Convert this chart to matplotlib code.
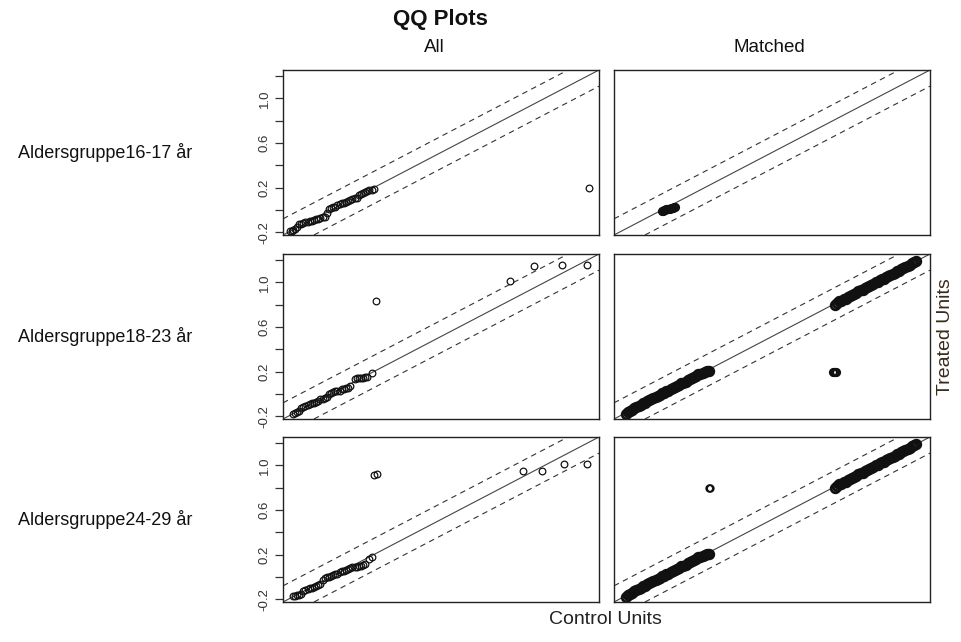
import matplotlib
matplotlib.use("Agg")
import matplotlib.pyplot as plt

plt.rcParams["font.family"] = ["Liberation Sans", "DejaVu Sans"]

# row labels and column titles
row_labels = ["Aldersgruppe16-17 år", "Aldersgruppe18-23 år", "Aldersgruppe24-29 år"]
col_titles = ["All", "Matched"]
y_ticks = [-0.2, 0.0, 0.2, 0.4, 0.6, 0.8, 1.0, 1.2]
y_ticklabels = ["-0.2", "", "0.2", "", "0.6", "", "1.0", ""]

# All, 16-17: control quantiles (x) vs treated quantiles (y)
all1_x = [-0.19, -0.185, -0.18, -0.17, -0.16, -0.15, -0.14, -0.13, -0.12, -0.11,
          -0.10, -0.09, -0.08, -0.07, -0.06, -0.05, -0.04, -0.03, -0.02, -0.01,
          0.00, 0.01, 0.02, 0.03, 0.04, 0.05, 0.06, 0.07, 0.08, 0.09,
          0.10, 0.11, 0.12, 0.13, 0.14, 0.15, 0.16, 0.17, 0.18, 0.19, 0.20, 1.21]
all1_y = [-0.19, -0.185, -0.18, -0.17, -0.15, -0.13, -0.125, -0.12, -0.11, -0.105,
          -0.10, -0.10, -0.09, -0.085, -0.08, -0.07, -0.065, -0.06, -0.03, 0.01,
          0.02, 0.025, 0.03, 0.04, 0.05, 0.06, 0.065, 0.07, 0.08, 0.09,
          0.10, 0.105, 0.11, 0.13, 0.14, 0.15, 0.16, 0.17, 0.18, 0.18, 0.19, 0.20]

# All, 18-23
all2_x = [-0.18, -0.17, -0.16, -0.15, -0.14, -0.13, -0.12, -0.11, -0.10, -0.09,
          -0.08, -0.07, -0.06, -0.05, -0.04, -0.03, -0.02, -0.01, 0.00, 0.01,
          0.02, 0.03, 0.04, 0.05, 0.06, 0.07, 0.08, 0.09, 0.11, 0.12,
          0.13, 0.14, 0.15, 0.16, 0.17, 0.19,
          0.21, 0.84, 0.95, 1.08, 1.20]
all2_y = [-0.18, -0.17, -0.16, -0.15, -0.13, -0.12, -0.11, -0.10, -0.09, -0.08,
          -0.08, -0.07, -0.06, -0.05, -0.05, -0.04, -0.03, 0.00, 0.01, 0.02,
          0.03, 0.03, 0.03, 0.04, 0.04, 0.05, 0.05, 0.07, 0.13, 0.14,
          0.14, 0.14, 0.14, 0.15, 0.15, 0.19,
          0.83, 1.01, 1.15, 1.16, 1.16]

# All, 24-29
all3_x = [-0.18, -0.17, -0.16, -0.15, -0.14, -0.13, -0.12, -0.11, -0.10, -0.09,
          -0.08, -0.07, -0.06, -0.05, -0.04, -0.03, -0.02, -0.01, 0.00, 0.01,
          0.02, 0.03, 0.04, 0.05, 0.06, 0.07, 0.08, 0.09, 0.10, 0.11,
          0.12, 0.13, 0.14, 0.15, 0.16, 0.18, 0.19,
          0.20, 0.215, 0.90, 0.99, 1.09, 1.20]
all3_y = [-0.17, -0.17, -0.165, -0.16, -0.15, -0.13, -0.12, -0.11, -0.10, -0.10,
          -0.09, -0.08, -0.07, -0.06, -0.03, -0.01, 0.00, 0.00, 0.01, 0.02,
          0.03, 0.03, 0.04, 0.05, 0.05, 0.06, 0.07, 0.08, 0.09, 0.09,
          0.09, 0.10, 0.10, 0.11, 0.12, 0.16, 0.18,
          0.91, 0.92, 0.95, 0.95, 1.01, 1.01]

# Matched, 16-17: a tight cluster near zero
m1_x = [0.000, 0.005, 0.010, 0.015, 0.020, 0.025, 0.030, 0.035, 0.040, 0.045,
        0.050, 0.055, 0.060]
m1_y = [-0.012, -0.008, -0.004, 0.000, 0.004, 0.006, 0.010, 0.012, 0.016, 0.018,
        0.020, 0.024, 0.026]

# Matched bands (low group and high group)
band_lo_x = [-0.17, -0.16, -0.15, -0.14, -0.13, -0.12, -0.11, -0.10, -0.09, -0.08,
             -0.07, -0.06, -0.05, -0.04, -0.03, -0.02, -0.01, 0.00, 0.01, 0.02,
             0.03, 0.04, 0.05, 0.06, 0.07, 0.08, 0.09, 0.10, 0.11, 0.12,
             0.13, 0.14, 0.15, 0.16, 0.17, 0.18, 0.19, 0.20, 0.21, 0.22]
band_lo_y = [-0.18, -0.165, -0.155, -0.14, -0.125, -0.12, -0.105, -0.095, -0.085, -0.08,
             -0.065, -0.055, -0.045, -0.04, -0.025, -0.015, -0.01, 0.005, 0.01, 0.025,
             0.03, 0.045, 0.05, 0.06, 0.075, 0.08, 0.095, 0.10, 0.11, 0.125,
             0.13, 0.145, 0.15, 0.16, 0.175, 0.18, 0.19, 0.20, 0.205, 0.21]
band_hi_x = [0.81, 0.82, 0.83, 0.84, 0.85, 0.86, 0.87, 0.88, 0.89, 0.90,
             0.91, 0.92, 0.93, 0.94, 0.95, 0.96, 0.97, 0.98, 0.99, 1.00,
             1.01, 1.02, 1.03, 1.04, 1.05, 1.06, 1.07, 1.08, 1.09, 1.10,
             1.11, 1.12, 1.13, 1.14, 1.15, 1.16, 1.17, 1.18, 1.19]
band_hi_y = [0.80, 0.815, 0.83, 0.835, 0.85, 0.855, 0.87, 0.88, 0.885, 0.90,
             0.905, 0.92, 0.93, 0.935, 0.95, 0.955, 0.97, 0.98, 0.985, 1.00,
             1.005, 1.02, 1.03, 1.035, 1.05, 1.055, 1.07, 1.08, 1.085, 1.10,
             1.105, 1.12, 1.13, 1.135, 1.15, 1.155, 1.17, 1.18, 1.19]

# Matched outliers
m2_out_x = [0.800, 0.805, 0.810, 0.815]
m2_out_y = [0.20, 0.20, 0.20, 0.20]
m3_out_x = [0.222, 0.226]
m3_out_y = [0.80, 0.80]

band_offset = 0.145
lim = (-0.225, 1.255)

fig = plt.figure(figsize=(9.62, 6.42), dpi=100)
W, H = 962, 642


def add_axes(left, top, right, bottom):
    return fig.add_axes([left / W, 1 - bottom / H, (right - left) / W, (bottom - top) / H])


rows = [(70, 235), (254, 419), (437, 602)]
cols = [(283, 599), (614, 930)]

all_data = [(all1_x, all1_y), (all2_x, all2_y), (all3_x, all3_y)]

for r, (top, bottom) in enumerate(rows):
    for c, (left, right) in enumerate(cols):
        ax = add_axes(left, top, right, bottom)
        ax.set_xlim(lim)
        ax.set_ylim(lim)
        for s in ax.spines.values():
            s.set_linewidth(1.0)
            s.set_color("#222222")
        ax.set_xticks([])
        if c == 0:
            ax.set_yticks(y_ticks)
            ax.set_yticklabels(y_ticklabels, rotation=90, va="center", fontsize=9.5,
                               color="#333333")
            ax.tick_params(axis="y", length=6, width=0.9, pad=3, color="#333333")
        else:
            ax.set_yticks([])

        ax.axline((0, 0), slope=1, color="#444444", lw=0.8)
        ax.axline((0, band_offset), slope=1, color="#333333", lw=0.8,
                  ls=(0, (5, 4)))
        ax.axline((0, -band_offset), slope=1, color="#333333", lw=0.8,
                  ls=(0, (5, 4)))

        if c == 0:
            xs, ys = all_data[r]
            ax.plot(xs, ys, "o", mfc="none", mec="#111111", ms=4.8, mew=0.9)
        else:
            if r == 0:
                ax.plot(m1_x, m1_y, "o", mfc="none", mec="#111111", ms=5, mew=1.6)
            else:
                ax.plot(band_lo_x, band_lo_y, "o", mfc="none", mec="#111111",
                        ms=6.2, mew=2.0)
                ax.plot(band_hi_x, band_hi_y, "o", mfc="none", mec="#111111",
                        ms=6.2, mew=2.0)
                if r == 1:
                    ax.plot(m2_out_x, m2_out_y, "o", mfc="none", mec="#111111",
                            ms=5, mew=1.6)
                else:
                    ax.plot(m3_out_x, m3_out_y, "o", mfc="none", mec="#111111",
                            ms=4.8, mew=1.2)

    fig.text(18 / W, 1 - (top + bottom) / 2 / H, row_labels[r], fontsize=13,
             ha="left", va="center", color="#111111")

fig.text(440 / W, 1 - 20 / H, "QQ Plots", fontsize=16, fontweight="bold",
         ha="center", va="center", color="#111111")
fig.text(434 / W, 1 - 47 / H, col_titles[0], fontsize=13.5, ha="center",
         va="center", color="#111111")
fig.text(769 / W, 1 - 47 / H, col_titles[1], fontsize=13.5, ha="center",
         va="center", color="#111111")
fig.text(605 / W, 1 - 620 / H, "Control Units", fontsize=14, ha="center",
         va="center", color="#222222")
fig.text(946 / W, 1 - 337 / H, "Treated Units", fontsize=14, ha="center",
         va="center", rotation=90, color="#3a2a1a")

fig.savefig("out.png", dpi=100)
